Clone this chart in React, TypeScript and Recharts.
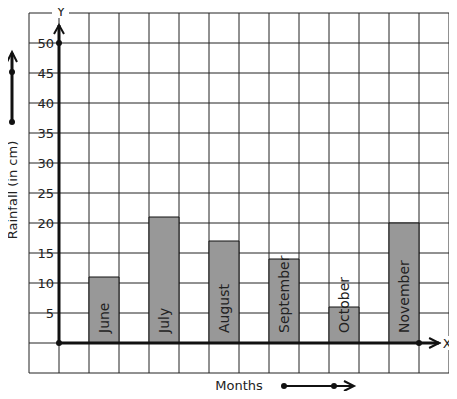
import React from 'react';
import { BarChart, Bar, XAxis, YAxis, CartesianGrid, ReferenceLine, ReferenceDot, LabelList } from 'recharts';

const months = ['June', 'July', 'August', 'September', 'October', 'November'];
const rainfall = [11, 21, 17, 14, 6, 20];
const yGrid = [-5, 0, 5, 10, 15, 20, 25, 30, 35, 40, 45, 50, 55];
const yLabels = [5, 10, 15, 20, 25, 30, 35, 40, 45, 50];
const xGrid = [-1, 0, 1, 2, 3, 4, 5, 6, 7, 8, 9, 10, 11, 12, 13];

// each month sits in every second grid column
const data = months.map((m, i) => ({ month: m, slot: 2 * i + 1.5, rainfall: rainfall[i] }));

const INK = '#111';

const YTick = (props: any) => {
  const { y, payload } = props;
  if (!yLabels.includes(payload.value)) return <g />;
  return (
    <text x={54} y={y} textAnchor="end" dominantBaseline="central" fontSize={13} fill="#222">
      {payload.value}
    </text>
  );
};

const NoTick = () => <g />;

const MonthLabel = (props: any) => {
  const { x, y, width, height, value } = props;
  const cx = x + width / 2;
  const by = y + height - 10;
  return (
    <text
      x={cx}
      y={by}
      transform={`rotate(-90 ${cx} ${by})`}
      textAnchor="start"
      dominantBaseline="central"
      fontSize={14}
      fill="#222"
    >
      {value}
    </text>
  );
};

const YArrow = (props: any) => {
  const { x1, y1, y2 } = props;
  const top = Math.min(y1, y2);
  const bot = Math.max(y1, y2);
  return (
    <g>
      <line x1={x1} y1={bot} x2={x1} y2={top} stroke={INK} strokeWidth={3} />
      <polyline points={`${x1 - 5},${top + 9} ${x1},${top} ${x1 + 5},${top + 9}`} fill="none" stroke={INK} strokeWidth={2} />
      <rect x={x1 - 7} y={top - 20} width={17} height={13} fill="#fff" />
      <text x={x1 + 2} y={top - 9} textAnchor="middle" fontSize={13} fill="#222">Y</text>
    </g>
  );
};

const XArrow = (props: any) => {
  const { x1, y1, x2 } = props;
  const right = Math.max(x1, x2);
  const left = Math.min(x1, x2);
  return (
    <g>
      <line x1={left} y1={y1} x2={right} y2={y1} stroke={INK} strokeWidth={3} />
      <polyline points={`${right - 10},${y1 - 5} ${right},${y1} ${right - 10},${y1 + 5}`} fill="none" stroke={INK} strokeWidth={2} />
      <rect x={right + 2} y={y1 - 7} width={14} height={14} fill="#fff" />
      <text x={right + 8} y={y1 + 5} textAnchor="middle" fontSize={13} fill="#222">X</text>
    </g>
  );
};

export default function App() {
  return (
    <div
      style={{
        position: 'relative',
        width: 457,
        height: 399,
        margin: '-8px 0 -8px -8px',
        fontFamily: '"DejaVu Sans", sans-serif',
      }}
    >
      <BarChart width={457} height={399} data={data} margin={{ top: 13, right: 8, left: 0, bottom: 26 }}>
        <CartesianGrid stroke="#222" strokeWidth={1} />
        <XAxis
          dataKey="slot"
          type="number"
          domain={[-1, 13]}
          ticks={xGrid}
          interval={0}
          tick={<NoTick />}
          axisLine={false}
          tickLine={false}
          height={0}
        />
        <YAxis
          type="number"
          domain={[-5, 55]}
          ticks={yGrid}
          tick={<YTick />}
          axisLine={false}
          tickLine={false}
          width={29}
          interval={0}
        />
        <Bar dataKey="rainfall" fill="#989898" stroke="#111" strokeWidth={1} barSize={30} isAnimationActive={false}>
          <LabelList dataKey="month" content={<MonthLabel />} />
        </Bar>
        <ReferenceLine segment={[{ x: 0, y: 0 }, { x: 0, y: 53 }]} shape={<YArrow />} />
        <ReferenceLine segment={[{ x: 0, y: 0 }, { x: 12.67, y: 0 }]} shape={<XArrow />} />
        <ReferenceDot x={0} y={0} r={3} fill={INK} stroke="none" />
        <ReferenceDot x={0} y={50} r={3} fill={INK} stroke="none" />
        <ReferenceDot x={12} y={0} r={3} fill={INK} stroke="none" />
      </BarChart>
      <svg width={457} height={399} style={{ position: 'absolute', left: 0, top: 0, pointerEvents: 'none' }}>
        <line x1={12} y1={122} x2={12} y2={53} stroke={INK} strokeWidth={3} />
        <polyline points="7,62 12,52 17,62" fill="none" stroke={INK} strokeWidth={2} />
        <circle cx={12} cy={72} r={3} fill={INK} />
        <circle cx={12} cy={122} r={3} fill={INK} />
        <text
          x={12}
          y={190}
          transform="rotate(-90 12 190)"
          textAnchor="middle"
          dominantBaseline="central"
          fontSize={13}
          fill="#222"
        >
          Rainfall (in cm)
        </text>
        <text x={239} y={385} textAnchor="middle" dominantBaseline="central" fontSize={13} fill="#222">Months</text>
        <line x1={284} y1={386} x2={353} y2={386} stroke={INK} strokeWidth={2} />
        <polyline points="344,381 354,386 344,391" fill="none" stroke={INK} strokeWidth={2} />
        <circle cx={284} cy={386} r={3} fill={INK} />
        <circle cx={334} cy={386} r={3} fill={INK} />
      </svg>
    </div>
  );
}
